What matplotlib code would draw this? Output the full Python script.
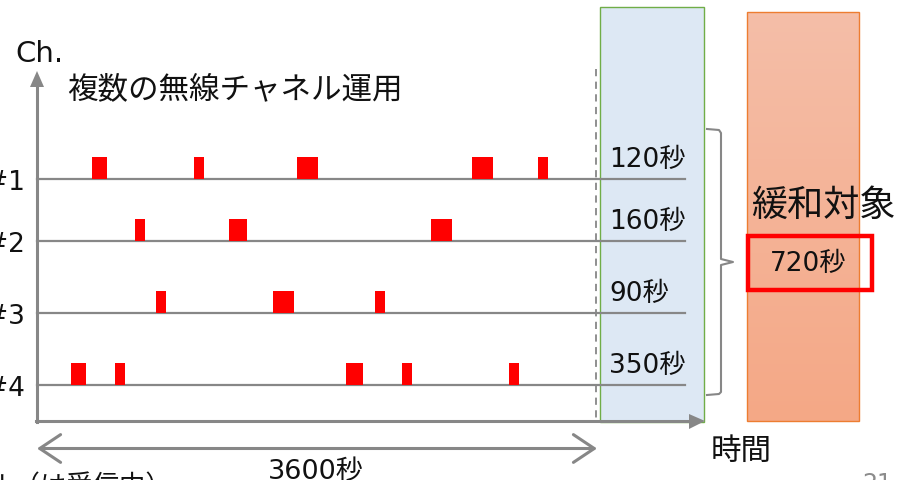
import numpy as np
import matplotlib.pyplot as plt
from matplotlib.patches import Rectangle, Polygon
from matplotlib.colors import LinearSegmentedColormap

plt.rcParams['font.family'] = ['DejaVu Sans', 'Noto Sans CJK JP']

# 各チャネルの送信区間 (開始秒, 長さ秒)
ch_names = ["#1", "#2", "#3", "#4"]
ch1_tx = [(355, 96), (1010, 64), (1672, 135), (2796, 135), (3222, 64)]
ch2_tx = [(630, 64), (1234, 116), (2533, 135)]
ch3_tx = [(765, 64), (1517, 135), (2173, 64)]
ch4_tx = [(219, 96), (501, 64), (1986, 110), (2346, 64), (3034, 64)]
transmissions = [ch1_tx, ch2_tx, ch3_tx, ch4_tx]
last_window = ["120秒", "160秒", "90秒", "350秒"]
total_label = "720秒"
period = 3600

# 画面座標 (px) と時間軸の対応
W, H = 904, 481
X0, X1 = 37, 597
sec_per_px = period / (X1 - X0)


def xs(p):
    return (p - X0) * sec_per_px


row_y = [180, 242, 314, 386]
bar_h = 22
gray = "#878787"
ink = "#111111"

fig = plt.figure(figsize=(W / 100, H / 100), dpi=100)
ax = fig.add_axes([0, 0, 1, 1])
ax.set_xlim(xs(0), xs(W))
ax.set_ylim(H, 0)
ax.axis("off")

# 直近区間の枠 (青)
ax.add_patch(Rectangle((xs(600), 8), xs(704) - xs(600), 415,
                       facecolor="#dde8f4", edgecolor="#70ad47", lw=1, zorder=1))

# 緩和対象の枠 (オレンジのグラデーション)
cmap = LinearSegmentedColormap.from_list("og", ["#f5bea8", "#f4a886"])
grad = np.linspace(0, 1, 100).reshape(-1, 1)
ax.imshow(grad, cmap=cmap, aspect="auto",
          extent=(xs(747), xs(859), 422, 13), zorder=1)
ax.add_patch(Rectangle((xs(747), 13), xs(859) - xs(747), 409,
                       facecolor="none", edgecolor="#ed7d31", lw=1, zorder=2))

# チャネルの線と送信区間
for y, tx in zip(row_y, transmissions):
    ax.plot([xs(37), xs(685)], [y, y], color=gray, lw=1.6, zorder=3)
    for start, dur in tx:
        ax.add_patch(Rectangle((start, y - bar_h), dur, bar_h,
                               facecolor="#ff0000", edgecolor="none", zorder=4))

for y, name in zip(row_y, ch_names):
    ax.text(xs(25), y + 3, name, ha="right", va="center", fontsize=19, color=ink)

# 縦軸・横軸
ax.plot([0, 0], [423, 86], color=gray, lw=2.2, zorder=5)
ax.add_patch(Polygon([(xs(30), 88), (xs(44), 88), (0, 72)], closed=True,
                     facecolor=gray, edgecolor="none", zorder=5))
ax.plot([xs(36), xs(690)], [422, 422], color=gray, lw=2.2, zorder=5)
ax.add_patch(Polygon([(xs(689), 415), (xs(689), 430), (xs(705), 422)], closed=True,
                     facecolor=gray, edgecolor="none", zorder=5))

# 3600秒の区切り
ax.plot([xs(596), xs(596)], [70, 422], color=gray, lw=1.3, ls=(0, (4, 3)), zorder=3)

# 3600秒の両矢印
ax.annotate("", xy=(0, 449.5), xytext=(period, 449.5),
            arrowprops=dict(arrowstyle="<->,head_length=0.75,head_width=0.5",
                            mutation_scale=20, color=gray, lw=2.2,
                            shrinkA=0, shrinkB=0))
ax.text(xs(316), 472, f"{period}秒", ha="center", va="center", fontsize=19.5, color=ink)

# 中括弧
bx = [xs(707), xs(719), xs(721), xs(721), xs(733), xs(721), xs(721), xs(719), xs(707)]
by = [130, 131, 134, 260, 263, 266, 393, 395, 396]
ax.plot(bx, by, color=gray, lw=1.5, zorder=3)

# テキスト
ax.text(xs(15), 54, "Ch.", ha="left", va="center", fontsize=21, color=ink)
ax.text(xs(67), 90, "複数の無線チャネル運用", ha="left", va="center", fontsize=22, color=ink)
for y, lbl in zip(row_y, last_window):
    ax.text(xs(609), y - 20, lbl, ha="left", va="center", fontsize=19, color=ink, zorder=6)
ax.text(xs(751), 206, "緩和対象", ha="left", va="center", fontsize=26, color=ink, zorder=6)
ax.add_patch(Rectangle((xs(748), 237), xs(872) - xs(748), 54,
                       facecolor="none", edgecolor="#ff0000", lw=3.2, zorder=6))
ax.text(xs(808), 264, total_label, ha="center", va="center", fontsize=19, color=ink, zorder=7)
ax.text(xs(741), 451, "時間", ha="center", va="center", fontsize=22, color=ink)
ax.text(xs(172), 487, "アイドル（は受信中）", ha="right", va="center", fontsize=19, color=ink)
ax.text(xs(877), 484, "21", ha="center", va="center", fontsize=17, color="#8c8c8c")

fig.savefig("out.png", dpi=100)
